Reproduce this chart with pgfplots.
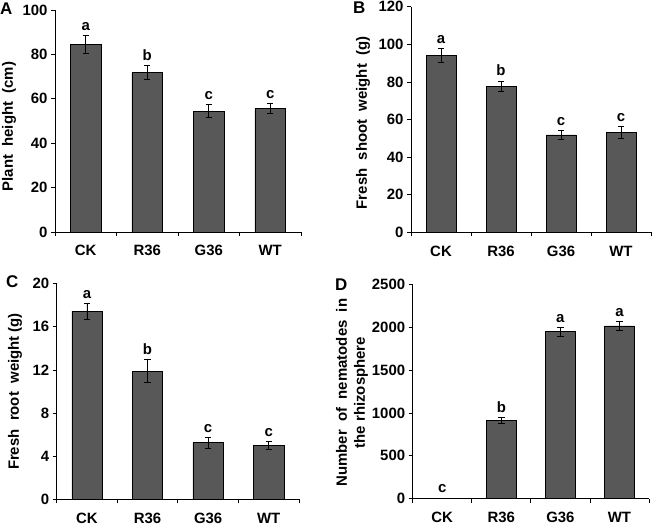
\documentclass[border=0pt]{standalone}
\usepackage{fontspec}
\setmainfont{Liberation Sans}
\usepackage{pgfplots}
\pgfplotsset{compat=1.18}
\definecolor{barfill}{RGB}{88,88,88}
\newcommand\tf{\fontsize{15}{18}\selectfont\bfseries}
\newcommand\lf{\fontsize{17}{20}\selectfont\bfseries}
\pgfplotsset{
  panel/.style={
    scale only axis,
    axis x line*=bottom, axis y line*=left,
    axis line style={line width=0.8bp, black},
    xmin=0.5, xmax=4.5, ymin=0,
    xtick={1,2,3,4}, xticklabels={CK,R36,G36,WT},
    minor xtick={0.5,1.5,2.5,3.5,4.5},
    major x tick style={draw=none},
    tick align=outside, major tick length=4bp, minor tick length=4bp,
    tick style={line width=0.8bp, black},
    ticklabel style={font=\tf},
    /pgf/number format/assume math mode=true,
    /pgf/number format/1000 sep={},
    scaled y ticks=false,
    xticklabel style={yshift=-6bp},
    ybar, bar width=0.5,
    clip=false,
  },
  bars/.style={
    fill=barfill, draw=black, line width=0.6bp,
    error bars/.cd, y dir=both, y explicit,
    error bar style={line width=0.9bp, black},
    error mark options={rotate=90, mark size=3.2bp, line width=0.9bp, black},
  },
}
\begin{document}
\begin{tikzpicture}
\useasboundingbox (0bp,0bp) rectangle (652bp,-525bp);
% Panel A
\begin{axis}[panel, at={(55bp,-232bp)}, anchor=south west,
  width=246bp, height=222bp, ymax=100, ytick={0,20,...,100},
  every axis y label/.style={at={(axis description cs:-0.187,0.475)}, rotate=90, anchor=center, font=\tf},
  ylabel={Plant\ \ height\ \ (cm)}]
\addplot[bars] coordinates {(1,84.5) +- (0,4.1) (2,71.9) +- (0,3.0) (3,54.4) +- (0,3.0) (4,55.6) +- (0,2.2)};
\node[font=\tf, anchor=base, yshift=5bp] at (axis cs:1,88.6) {a};
\node[font=\tf, anchor=base, yshift=5bp] at (axis cs:2,74.9) {b};
\node[font=\tf, anchor=base, yshift=5bp] at (axis cs:3,57.4) {c};
\node[font=\tf, anchor=base, yshift=5bp] at (axis cs:4,57.8) {c};
\end{axis}
% Panel B
\begin{axis}[panel, at={(411bp,-232.3bp)}, anchor=south west,
  width=240bp, height=225.6bp, ymax=120, ytick={0,20,...,120},
  every axis y label/.style={at={(axis description cs:-0.20,0.485)}, rotate=90, anchor=center, font=\tf},
  ylabel={Fresh\ \ shoot\ \ weight\ \ (g)}]
\addplot[bars] coordinates {(1,94.1) +- (0,3.6) (2,77.8) +- (0,2.7) (3,51.8) +- (0,2.5) (4,53.2) +- (0,3.2)};
\node[font=\tf, anchor=base, yshift=5bp] at (axis cs:1,97.7) {a};
\node[font=\tf, anchor=base, yshift=5bp] at (axis cs:2,80.5) {b};
\node[font=\tf, anchor=base, yshift=5bp] at (axis cs:3,54.3) {c};
\node[font=\tf, anchor=base, yshift=5bp] at (axis cs:4,56.4) {c};
\end{axis}
% Panel C
\begin{axis}[panel, at={(56.7bp,-499.3bp)}, anchor=south west,
  width=242.3bp, height=215.6bp, ymax=20, ytick={0,4,...,20},
  every axis y label/.style={at={(axis description cs:-0.172,0.50)}, rotate=90, anchor=center, font=\tf},
  ylabel={Fresh\ \ root\ \ weight (g)}]
\addplot[bars] coordinates {(1,17.45) +- (0,0.75) (2,11.9) +- (0,1.1) (3,5.25) +- (0,0.5) (4,5.0) +- (0,0.35)};
\node[font=\tf, anchor=base, yshift=5bp] at (axis cs:1,18.2) {a};
\node[font=\tf, anchor=base, yshift=5bp] at (axis cs:2,13.0) {b};
\node[font=\tf, anchor=base, yshift=5bp] at (axis cs:3,5.75) {c};
\node[font=\tf, anchor=base, yshift=5bp] at (axis cs:4,5.35) {c};
\end{axis}
% Panel D
\begin{axis}[panel, at={(412.7bp,-498.7bp)}, anchor=south west,
  width=236.3bp, height=214.4bp, ymax=2500, ytick={0,500,...,2500},
  every axis y label/.style={at={(axis description cs:-0.257,0.495)}, rotate=90, anchor=center, font=\tf, align=center},
  ylabel={Number\ \ of\ \ nematodes\ \ in\\the rhizosphere}]
\addplot[bars] coordinates {(2,915) +- (0,35) (3,1948) +- (0,54) (4,2014) +- (0,55)};
\node[font=\tf, anchor=base, yshift=6bp] at (axis cs:1,0) {c};
\node[font=\tf, anchor=base, yshift=5bp] at (axis cs:2,950) {b};
\node[font=\tf, anchor=base, yshift=5bp] at (axis cs:3,2002) {a};
\node[font=\tf, anchor=base, yshift=5bp] at (axis cs:4,2069) {a};
\end{axis}
% Panel letters
\node[font=\lf, anchor=base west, inner sep=0] at (0bp,-14bp) {A};
\node[font=\lf, anchor=base west, inner sep=0] at (353bp,-13bp) {B};
\node[font=\lf, anchor=base west, inner sep=0] at (6bp,-287bp) {C};
\node[font=\lf, anchor=base west, inner sep=0] at (335bp,-290bp) {D};
\end{tikzpicture}
\end{document}
